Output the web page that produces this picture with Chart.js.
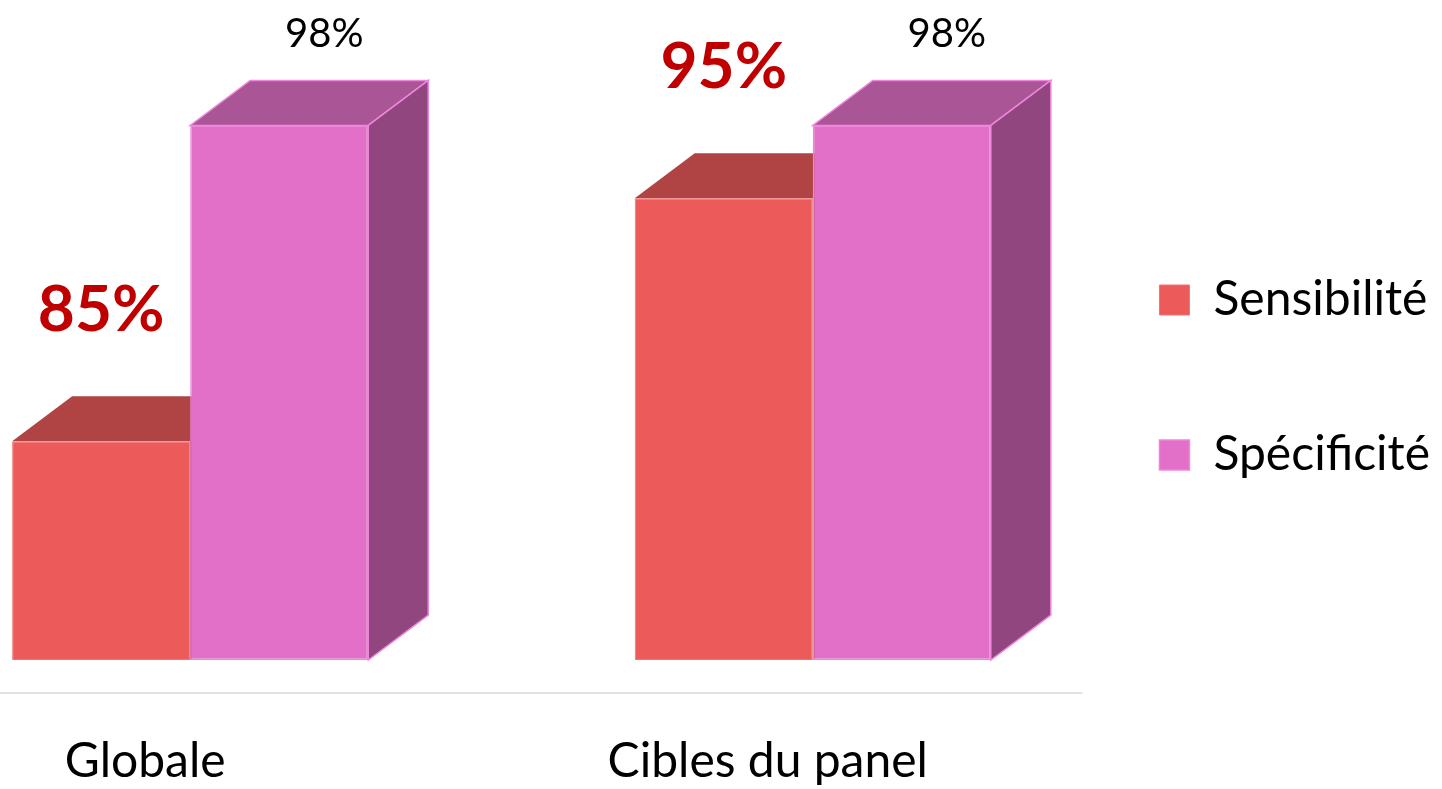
<!DOCTYPE html>
<html>
<head>
<meta charset="utf-8">
<script src="https://cdn.jsdelivr.net/npm/chart.js@4"></script>
<style>
  html, body { margin: 0; padding: 0; background: #fff; }
  #wrap { width: 1442px; height: 789px; }
</style>
</head>
<body>
<div id="wrap"><canvas id="myChart"></canvas></div>
<script>
const categories = ['Globale', 'Cibles du panel'];
const seriesNames = ['Sensibilité', 'Spécificité'];
const sensibilite = [85, 95];
const specificite = [98, 98];

const depth = { x: 60, y: 45 };

function points(values) {
    return values.map((v, i) => ({ x: i, y: v }));
}

function face(ctx, pts, fill, stroke) {
    ctx.beginPath();
    ctx.moveTo(pts[0][0], pts[0][1]);
    for (let i = 1; i < pts.length; i++) ctx.lineTo(pts[i][0], pts[i][1]);
    ctx.closePath();
    ctx.fillStyle = fill;
    ctx.fill();
    if (stroke) {
        ctx.strokeStyle = stroke;
        ctx.lineWidth = 1.5;
        ctx.stroke();
    }
}

// top + side faces, drawn before the fronts so the fronts cover them
const bars3d = {
    id: 'bars3d',
    beforeDraw(chart) {
        const ctx = chart.ctx;
        const a = chart.chartArea;
        ctx.save();
        ctx.strokeStyle = '#dfe2ea';
        ctx.lineWidth = 2;
        ctx.beginPath();
        ctx.moveTo(0, a.bottom + 33);
        ctx.lineTo(a.right + 30, a.bottom + 33);
        ctx.stroke();
        ctx.restore();
    },
    beforeDatasetsDraw(chart) {
        const ctx = chart.ctx;
        ctx.save();
        chart.data.datasets.forEach((ds, i) => {
            chart.getDatasetMeta(i).data.forEach(bar => {
                const { x, y, base, width } = bar.getProps(['x', 'y', 'base', 'width'], true);
                const l = x - width / 2, r = x + width / 2;
                face(ctx, [[l, y], [r, y], [r + depth.x, y - depth.y], [l + depth.x, y - depth.y]], ds.topColor, ds.edgeColor);
                face(ctx, [[r, y], [r + depth.x, y - depth.y], [r + depth.x, base - depth.y], [r, base]], ds.sideColor, ds.edgeColor);
            });
        });
        ctx.restore();
    },
    afterDatasetsDraw(chart) {
        const ctx = chart.ctx;
        ctx.save();
        ctx.textAlign = 'center';
        ctx.textBaseline = 'middle';
        chart.data.datasets.forEach((ds, i) => {
            const lab = ds.valueLabel;
            ctx.font = lab.font;
            ctx.fillStyle = lab.color;
            chart.getDatasetMeta(i).data.forEach((bar, j) => {
                ctx.fillText(ds.data[j].y + '%', bar.x + lab.dx, bar.y - lab.dy);
            });
        });
        ctx.restore();
    }
};

const data = {
    datasets: [{
        label: seriesNames[0],
        data: points(sensibilite),
        backgroundColor: '#ec5b5a',
        borderColor: '#f07474',
        borderWidth: 1,
        borderSkipped: false,
        topColor: '#b04444',
        sideColor: '#8e3434',
        edgeColor: null,
        valueLabel: { font: 'bold 64px Lato', color: '#c00000', dx: 0, dy: 131 }
    }, {
        label: seriesNames[1],
        data: points(specificite),
        backgroundColor: '#e270c8',
        borderColor: '#ee86dc',
        borderWidth: 1.5,
        borderSkipped: false,
        topColor: '#a95596',
        sideColor: '#91467f',
        edgeColor: '#ee86dc',
        valueLabel: { font: '40px Lato', color: '#000000', dx: 45, dy: 91 }
    }]
};

const config = {
    type: 'bar',
    data: data,
    plugins: [bars3d],
    options: {
        responsive: true,
        maintainAspectRatio: false,
        animation: false,
        layout: { padding: { left: 0, right: 2, top: 95, bottom: 0 } },
        datasets: { bar: { categoryPercentage: 0.572, barPercentage: 1, base: 76 } },
        scales: {
            x: {
                type: 'linear',
                offset: false,
                min: -0.3055,
                max: 1.385,
                grid: { display: false, drawTicks: false },
                border: { display: false },
                afterFit: scale => { scale.height = 129; },
                ticks: {
                    stepSize: 1,
                    includeBounds: false,
                    autoSkip: false,
                    maxRotation: 0,
                    padding: 73,
                    labelOffset: -45,
                    color: '#000',
                    font: { family: 'Lato', size: 48 },
                    callback: v => Number.isInteger(v) ? categories[v] : ''
                }
            },
            y: { display: false, min: 76, max: 99.25 }
        },
        plugins: {
            tooltip: { enabled: false },
            legend: {
                position: 'right',
                fullSize: false,
                align: 'center',
                labels: {
                    color: '#000',
                    font: { family: 'Lato', size: 48 },
                    boxWidth: 30,
                    boxHeight: 30,
                    padding: 107
                }
            }
        }
    }
};

const myChart = new Chart(document.getElementById('myChart'), config);
</script>
</body>
</html>
